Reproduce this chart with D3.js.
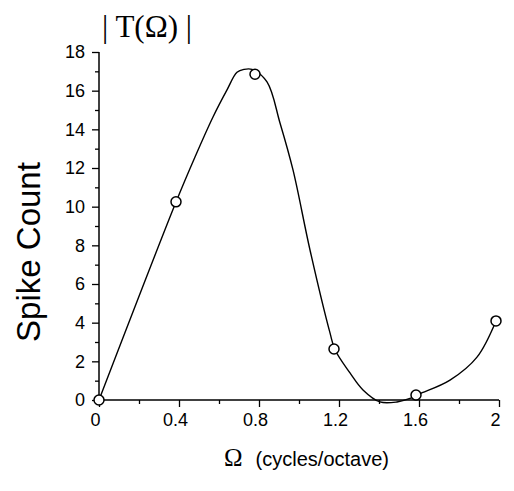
<!DOCTYPE html>
<html>
<head>
<meta charset="utf-8">
<script src="https://cdn.jsdelivr.net/npm/d3@7"></script>
<style>
  html, body { margin: 0; padding: 0; background: #fff; }
  svg { display: block; }
</style>
</head>
<body>
<svg id="chart" width="514" height="491"></svg>
<script>
// Measured data points (open circles)
const omega = [0.0, 0.385, 0.78, 1.175, 1.585, 1.985];
const spikeCount = [0, 10.25, 16.85, 2.64, 0.26, 4.09];

// Smooth fitted curve
const fitOmega = [0, 0.385, 0.48, 0.57, 0.64, 0.69, 0.725, 0.765, 0.84, 0.905, 0.97, 1.055, 1.155, 1.18, 1.255, 1.32, 1.405, 1.49, 1.555, 1.6, 1.755, 1.89, 1.985];
const fitCount = [0, 10.24, 12.57, 14.64, 16.04, 16.95, 17.1, 17.1, 16.45, 14.33, 11.9, 7.76, 3.47, 2.6, 1.40, 0.52, -0.1, -0.1, 0.08, 0.3, 1.03, 2.22, 4.09];

// Ticks
const xTicks = [0, 0.4, 0.8, 1.2, 1.6, 2];
const xTickLabels = ["0", "0.4", "0.8", "1.2", "1.6", "2"];
const xMinor = [0.2, 0.6, 1.0, 1.4, 1.8];
const yTicks = [0, 2, 4, 6, 8, 10, 12, 14, 16, 18];
const yMinor = [1, 3, 5, 7, 9, 11, 13, 15, 17];

const svg = d3.select("#chart");
const x = d3.scaleLinear().domain([0, 2]).range([99, 499]);
const y = d3.scaleLinear().domain([0, 18]).range([400, 52]);

const tickFont = "'Liberation Sans', Arial, Helvetica, sans-serif";
const serifFont = "'Liberation Serif', 'Times New Roman', serif";

// Y axis
const yAxis = svg.append("g").attr("transform", `translate(${x(0)},0)`)
  .call(d3.axisLeft(y).tickValues(yTicks).tickSize(7).tickPadding(7).tickFormat(d3.format("d")));
yAxis.select(".domain").attr("d", `M0,${y(18)}V${y(0)}`);
const yMinorAxis = svg.append("g").attr("transform", `translate(${x(0)},0)`)
  .call(d3.axisLeft(y).tickValues(yMinor).tickSize(4).tickFormat(""));
yMinorAxis.select(".domain").remove();

// X axis
const xAxis = svg.append("g").attr("transform", `translate(0,${y(0)})`)
  .call(d3.axisBottom(x).tickValues(xTicks).tickSize(7).tickPadding(6)
    .tickFormat((d, i) => xTickLabels[i]));
xAxis.select(".domain").attr("d", `M${x(0)},0H${x(2)}`);
xAxis.selectAll(".tick text").attr("dx", -4);
const xMinorAxis = svg.append("g").attr("transform", `translate(0,${y(0)})`)
  .call(d3.axisBottom(x).tickValues(xMinor).tickSize(4).tickFormat(""));
xMinorAxis.select(".domain").remove();

svg.selectAll(".domain").attr("stroke", "#000").attr("stroke-width", 1.5);
svg.selectAll(".tick line").attr("stroke", "#000").attr("stroke-width", 1.3);
svg.selectAll(".tick text").attr("font-family", tickFont).attr("font-size", 18).attr("fill", "#000");

// Fitted curve
const fit = fitOmega.map((d, i) => [d, fitCount[i]]);
svg.append("path")
  .datum(fit)
  .attr("fill", "none")
  .attr("stroke", "#000")
  .attr("stroke-width", 1.4)
  .attr("d", d3.line().x(d => x(d[0])).y(d => y(d[1])).curve(d3.curveCatmullRom.alpha(0.5)));

// Data points
svg.selectAll("circle.pt")
  .data(omega.map((d, i) => [d, spikeCount[i]]))
  .enter().append("circle")
  .attr("class", "pt")
  .attr("cx", d => x(d[0]))
  .attr("cy", d => y(d[1]))
  .attr("r", 5)
  .attr("fill", "#fff")
  .attr("stroke", "#000")
  .attr("stroke-width", 1.5);

// Titles
svg.append("text")
  .attr("x", 147).attr("y", 37)
  .attr("text-anchor", "middle")
  .attr("font-family", serifFont)
  .attr("font-size", 31)
  .text("| T(Ω) |");

svg.append("text")
  .attr("transform", "translate(40,252) rotate(-90)")
  .attr("text-anchor", "middle")
  .attr("font-family", tickFont)
  .attr("font-size", 33)
  .text("Spike Count");

const xt = svg.append("text")
  .attr("x", 224).attr("y", 466)
  .attr("font-family", tickFont)
  .attr("font-size", 20);
xt.append("tspan").attr("font-family", serifFont).attr("font-size", 25).text("Ω");
xt.append("tspan").attr("dx", 13).text("(cycles/octave)");
</script>
</body>
</html>
